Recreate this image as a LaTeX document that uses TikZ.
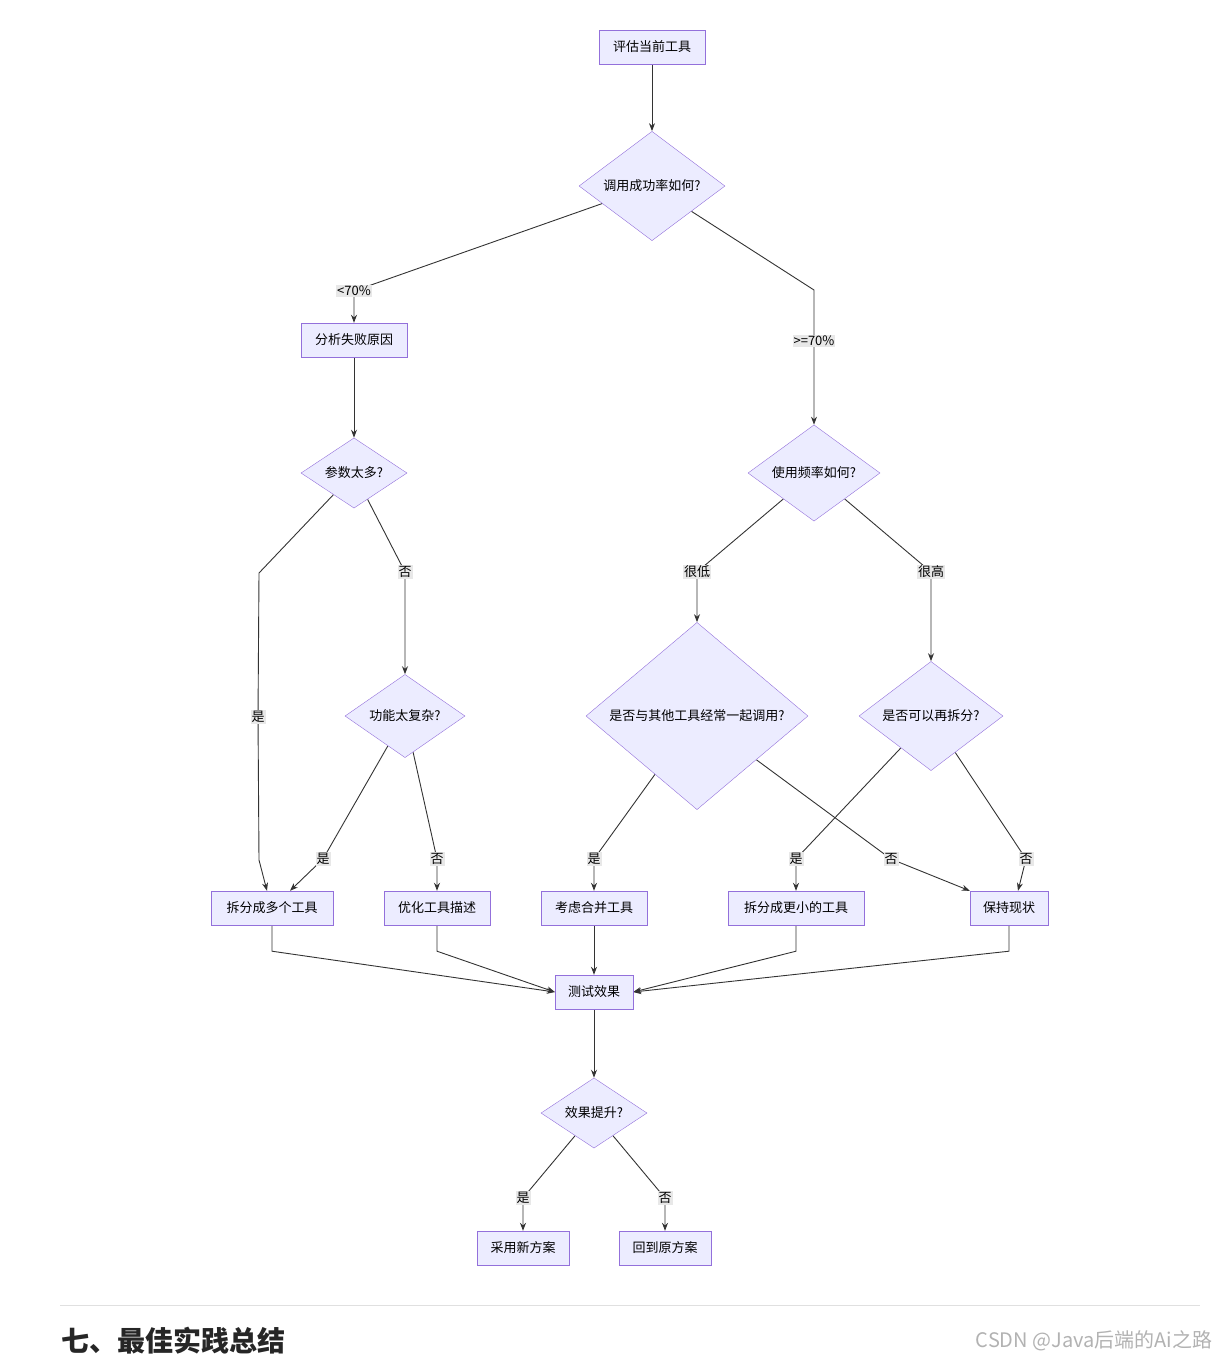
\documentclass[tikz,border=0pt]{standalone}
\usepackage{fontspec}
\setmainfont{Noto Sans CJK SC}
\usetikzlibrary{shapes.geometric, arrows.meta, backgrounds}
\definecolor{boxfill}{HTML}{ECECFF}
\definecolor{boxline}{HTML}{9370DB}
\definecolor{lblfill}{HTML}{E8E8E8}
\tikzset{
  box/.style={draw=boxline, fill=boxfill, minimum height=34, inner sep=0, font=\fontsize{13}{15}\selectfont},
  dec/.style={draw=boxline, fill=boxfill, diamond, aspect=1, inner sep=0, font=\fontsize{13}{15}\selectfont},
  lbl/.style={fill=lblfill, inner sep=1pt, font=\fontsize{13}{15}\selectfont},
  flow/.style={draw=black!80, line width=0.9pt, -{Stealth[length=8pt,width=6pt]}}
}
\begin{document}
\begin{tikzpicture}[x=1pt, y=-1pt]
\useasboundingbox (0,0) rectangle (1220,1361);
% nodes
\node[box, minimum width=106] (start) at (652,47) {评估当前工具};
\node[dec, minimum width=146] (rate) at (652,186) {调用成功率如何?};
\node[box, minimum width=106] (why) at (354,340) {分析失败原因};
\node[dec, minimum width=106] (many) at (354,473) {参数太多?};
\node[dec, minimum width=132] (freq) at (814,473) {使用频率如何?};
\node[dec, minimum width=120] (cplx) at (405,716) {功能太复杂?};
\node[dec, minimum width=222] (often) at (697,716) {是否与其他工具经常一起调用?};
\node[dec, minimum width=144] (split) at (931,716) {是否可以再拆分?};
\node[box, minimum width=122] (multi) at (272,908) {拆分成多个工具};
\node[box, minimum width=106] (desc) at (437,908) {优化工具描述};
\node[box, minimum width=106] (merge) at (594,908) {考虑合并工具};
\node[box, minimum width=136] (small) at (796,908) {拆分成更小的工具};
\node[box, minimum width=78] (keep) at (1009,908) {保持现状};
\node[box, minimum width=78] (test) at (594,992) {测试效果};
\node[dec, minimum width=106] (better) at (594,1113) {效果提升?};
\node[box, minimum width=92] (adopt) at (523,1248) {采用新方案};
\node[box, minimum width=92] (back) at (665,1248) {回到原方案};
% labels
\node[lbl] (lLow) at (354,291) {<70\%};
\node[lbl] (lHigh) at (814,341) {>=70\%};
\node[lbl] (lManyY) at (258,717) {是};
\node[lbl] (lManyN) at (405,572) {否};
\node[lbl] (lCplxY) at (323,859) {是};
\node[lbl] (lCplxN) at (437,859) {否};
\node[lbl] (lRare) at (697,572) {很低};
\node[lbl] (lOften) at (931,572) {很高};
\node[lbl] (lMergeY) at (594,859) {是};
\node[lbl] (lMergeN) at (891,859) {否};
\node[lbl] (lSplitY) at (796,859) {是};
\node[lbl] (lSplitN) at (1026,859) {否};
\node[lbl] (lBetterY) at (523,1198) {是};
\node[lbl] (lBetterN) at (665,1198) {否};
\coordinate (c1) at (814,290);
\coordinate (c2) at (259,573);
\coordinate (c3) at (259,860);
% connectors
\begin{scope}[on background layer]
\draw[flow] (start) -- (rate);
\draw[flow] (rate) -- (lLow.center) -- (why);
\draw[flow] (rate) -- (c1) -- (lHigh.center) -- (freq);
\draw[flow] (why) -- (many);
\draw[flow] (many) -- (c2) -- (lManyY.center) -- (c3) -- (multi.north west -| 267,0);
\draw[flow] (many) -- (lManyN.center) -- (cplx);
\draw[flow] (cplx) -- (lCplxY.center) -- ([xshift=18]multi.north);
\draw[flow] (cplx) -- (lCplxN.center) -- (desc);
\draw[flow] (freq) -- (lRare.center) -- (often);
\draw[flow] (freq) -- (lOften.center) -- (split);
\draw[flow] (often) -- (lMergeY.center) -- (merge);
\draw[flow] (often) -- (lMergeN.center) -- (keep.north west);
\draw[flow] (split) -- (lSplitY.center) -- (small);
\draw[flow] (split) -- (lSplitN.center) -- ([xshift=9]keep.north);
\draw[flow] (multi.south) -- ([yshift=-26]multi.south) -- (test.west);
\draw[flow] (desc.south) -- ([yshift=-26]desc.south) -- (test.west);
\draw[flow] (merge) -- (test);
\draw[flow] (small.south) -- ([yshift=-26]small.south) -- (test.east);
\draw[flow] (keep.south) -- ([yshift=-26]keep.south) -- (test.east);
\draw[flow] (test) -- (better);
\draw[flow] (better) -- (lBetterY.center) -- (adopt);
\draw[flow] (better) -- (lBetterN.center) -- (back);
\end{scope}
% page footer
\draw[black!12, line width=1pt] (60,1305) -- (1200,1305);
\node[anchor=west, font=\fontsize{28}{32}\selectfont\bfseries, text=black!85] (title) at (58,1341) {七、最佳实践总结};
\node[anchor=east, font=\fontsize{20}{24}\selectfont, text=black!30] (mark) at (1216,1341) {CSDN @Java后端的Ai之路};
\end{tikzpicture}
\end{document}
